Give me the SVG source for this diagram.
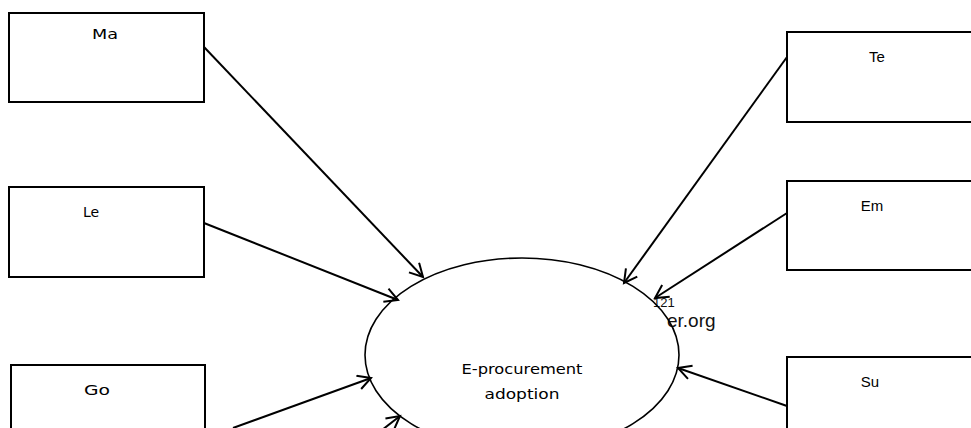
<svg xmlns="http://www.w3.org/2000/svg" width="971" height="428" viewBox="0 0 971 428">
<style>
.box{fill:#fff;stroke:#000;stroke-width:2}
.lbl{font-family:"DejaVu Sans","Liberation Sans",sans-serif;font-size:14px;fill:#000;text-anchor:middle}
.lbl2{font-family:"Liberation Sans","Open Sans",sans-serif;font-size:15px;fill:#000;text-anchor:middle}
.conn{stroke:#000;stroke-width:2;fill:none;marker-end:url(#arr)}
.wm{font-family:"Liberation Sans",Arial,sans-serif;fill:#111}
</style>
<defs>
<marker id="arr" markerUnits="userSpaceOnUse" markerWidth="18" markerHeight="18" refX="15" refY="8" orient="auto">
<path d="M2,1 L15,8 L2,15" fill="none" stroke="#000" stroke-width="2"/>
</marker>
</defs>
<rect width="971" height="428" fill="#fff"/>
<g id="watermark">
<text class="wm" x="653" y="307" font-size="13">121</text>
<text class="wm" x="667" y="327" font-size="19">er.org</text>
</g>
<g id="adoption">
<ellipse cx="522" cy="355" rx="157" ry="97" fill="none" stroke="#000" stroke-width="1.6"/>
<text class="lbl" x="522" y="374" textLength="121" lengthAdjust="spacingAndGlyphs">E-procurement</text>
<text class="lbl" x="522" y="399" textLength="75" lengthAdjust="spacingAndGlyphs">adoption</text>
</g>
<g id="ma"><rect class="box" x="9" y="13" width="195" height="89"/><text class="lbl" x="105" y="39" textLength="26" lengthAdjust="spacingAndGlyphs">Ma</text></g>
<g id="le"><rect class="box" x="9" y="187" width="195" height="90"/><text class="lbl" x="91" y="217">Le</text></g>
<g id="go"><rect class="box" x="11" y="365" width="194" height="90"/><text class="lbl" x="97" y="395" textLength="26" lengthAdjust="spacingAndGlyphs">Go</text></g>
<g id="te"><rect class="box" x="787" y="32" width="200" height="90"/><text class="lbl2" x="877" y="62">Te</text></g>
<g id="em"><rect class="box" x="787" y="181" width="200" height="89"/><text class="lbl2" x="872" y="211">Em</text></g>
<g id="su"><rect class="box" x="787" y="357" width="200" height="90"/><text class="lbl2" x="870" y="387">Su</text></g>
<g id="connectors">
<line class="conn" x1="204" y1="47" x2="423" y2="277"/>
<line class="conn" x1="204" y1="223" x2="398" y2="300"/>
<line class="conn" x1="233" y1="428" x2="371" y2="378"/>
<line class="conn" x1="382" y1="430" x2="400" y2="416"/>
<line class="conn" x1="787" y1="57" x2="624" y2="283"/>
<line class="conn" x1="787" y1="213" x2="655" y2="298"/>
<line class="conn" x1="787" y1="406" x2="678" y2="368"/>
</g>
</svg>
